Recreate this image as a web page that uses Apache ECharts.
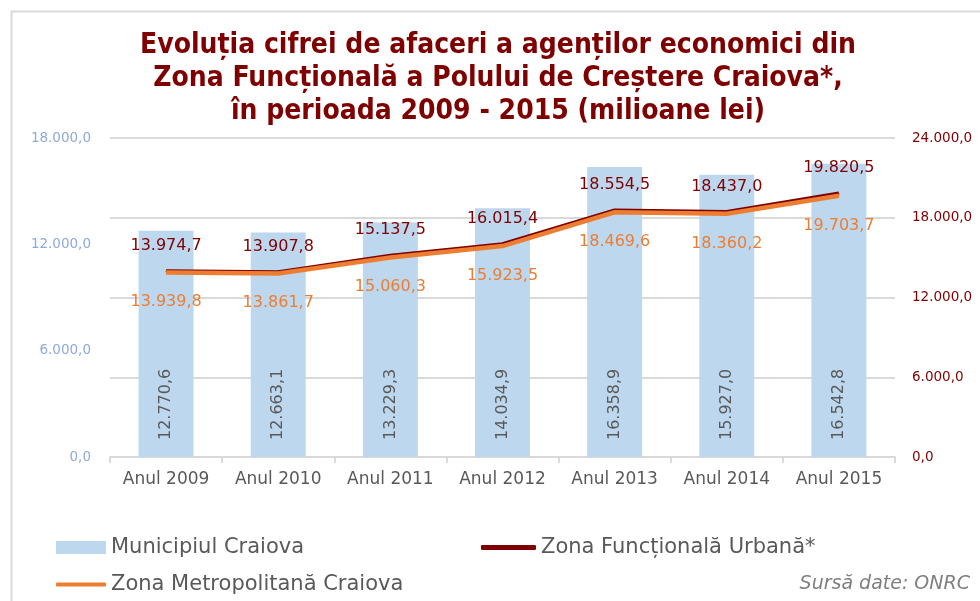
<!DOCTYPE html>
<html>
<head>
<meta charset="utf-8">
<script src="https://cdn.jsdelivr.net/npm/echarts@6/dist/echarts.min.js"></script>
<style>
html,body{margin:0;padding:0;background:#fff;}
#chart{width:980px;height:601px;}
</style>
</head>
<body>
<div id="chart"></div>
<script>
var years = ['Anul 2009','Anul 2010','Anul 2011','Anul 2012','Anul 2013','Anul 2014','Anul 2015'];
var municipiul = [12770.6, 12663.1, 13229.3, 14034.9, 16358.9, 15927.0, 16542.8];
var zonaFunctionala = [13974.7, 13907.8, 15137.5, 16015.4, 18554.5, 18437.0, 19820.5];
var zonaMetropolitana = [13939.8, 13861.7, 15060.3, 15923.5, 18469.6, 18360.2, 19703.7];

var FONT = '"DejaVu Sans", sans-serif';

// format 12770.6 -> 12.770,6
function fmt(v){
    var s = Number(v).toFixed(1);
    var parts = s.split('.');
    var intp = parts[0].replace(/\B(?=(\d{3})+(?!\d))/g, '.');
    return intp + ',' + parts[1];
}

var myChart = echarts.init(document.getElementById('chart'));
myChart.setOption({
    backgroundColor: '#fff',
    animation: false,
    title: {
        text: 'Evoluția cifrei de afaceri a agenților economici din\nZona Funcțională a Polului de Creștere Craiova*,\nîn perioada 2009 - 2015 (milioane lei)',
        left: 493,
        top: 24,
        textAlign: 'center',
        textStyle: {
            color: '#7F0000',
            fontFamily: '"DejaVu Sans Condensed", "DejaVu Sans", sans-serif',
            fontWeight: 'bold',
            fontSize: 28,
            lineHeight: 33
        }
    },
    grid: {
        left: 110,
        right: 85,
        top: 138,
        bottom: 144
    },
    legend: [{
        left: 56,
        top: 537,
        padding: 0,
        itemWidth: 50,
        itemHeight: 13,
        data: [{name: 'Municipiul Craiova', icon: 'rect'}],
        textStyle: {color: '#595959', fontSize: 21, fontFamily: FONT}
    }, {
        left: 481,
        top: 537,
        padding: 0,
        itemWidth: 55,
        itemHeight: 5,
        data: [{name: 'Zona Funcțională Urbană*', icon: 'roundRect'}],
        textStyle: {color: '#595959', fontSize: 21, fontFamily: FONT}
    }, {
        left: 56,
        top: 574,
        padding: 0,
        itemWidth: 50,
        itemHeight: 4,
        data: [{name: 'Zona Metropolitană Craiova', icon: 'roundRect'}],
        textStyle: {color: '#595959', fontSize: 21, fontFamily: FONT}
    }],
    graphic: [{
        type: 'rect',
        shape: {x: 11.5, y: 11.5, width: 1200, height: 800},
        style: {fill: 'none', stroke: '#D9D9D9', lineWidth: 2},
        silent: true
    }, {
        type: 'text',
        right: 10,
        top: 575,
        style: {
            text: 'Sursă date: ONRC',
            fill: '#7F7F7F',
            font: 'italic 19px "DejaVu Sans", sans-serif'
        }
    }],
    xAxis: [{
        type: 'category',
        data: years,
        boundaryGap: true,
        axisLine: {lineStyle: {color: '#D9D9D9', width: 2}},
        axisTick: {show: true, length: 6, lineStyle: {color: '#D9D9D9', width: 2}},
        axisLabel: {color: '#595959', fontSize: 17, fontFamily: FONT, margin: 14, interval: 0}
    }],
    yAxis: [{
        type: 'value',
        min: 0,
        max: 18000,
        interval: 6000,
        axisLine: {show: false},
        axisTick: {show: false},
        splitLine: {show: false},
        axisLabel: {
            color: '#8EA9DB',
            fontSize: 13.5,
            fontFamily: FONT,
            margin: 19,
            formatter: function(v){ return fmt(v); }
        }
    }, {
        type: 'value',
        min: 0,
        max: 24000,
        interval: 6000,
        position: 'right',
        axisLine: {show: false},
        axisTick: {show: false},
        splitLine: {show: true, lineStyle: {color: '#D9D9D9', width: 2}},
        axisLabel: {
            color: '#7F0000',
            fontSize: 13.5,
            fontFamily: FONT,
            margin: 17,
            formatter: function(v){ return fmt(v); }
        }
    }],
    series: [{
        name: 'Municipiul Craiova',
        type: 'bar',
        yAxisIndex: 0,
        data: municipiul,
        barWidth: '49%',
        itemStyle: {color: '#BDD7EE'},
        label: {
            show: true,
            position: 'insideBottom',
            rotate: 90,
            align: 'left',
            verticalAlign: 'middle',
            distance: 17,
            color: '#595959',
            fontSize: 16,
            fontFamily: FONT,
            formatter: function(p){ return fmt(p.value); }
        }
    }, {
        name: 'Zona Funcțională Urbană*',
        type: 'line',
        yAxisIndex: 1,
        data: zonaFunctionala,
        symbol: 'circle',
        symbolSize: 1,
        showSymbol: true,
        lineStyle: {color: '#7F0000', width: 4},
        itemStyle: {color: '#7F0000'},
        z: 3,
        label: {
            show: true,
            position: 'top',
            distance: 17,
            color: '#7F0000',
            fontSize: 16,
            fontFamily: FONT,
            formatter: function(p){ return fmt(p.value); }
        }
    }, {
        name: 'Zona Metropolitană Craiova',
        type: 'line',
        yAxisIndex: 1,
        data: zonaMetropolitana,
        symbol: 'circle',
        symbolSize: 1,
        showSymbol: true,
        lineStyle: {
            color: '#ED7D31',
            width: 3,
            shadowColor: '#ED7D31',
            shadowBlur: 0,
            shadowOffsetY: 1.5
        },
        itemStyle: {color: '#ED7D31'},
        z: 4,
        label: {
            show: true,
            position: 'bottom',
            distance: 22,
            color: '#ED7D31',
            fontSize: 16,
            fontFamily: FONT,
            formatter: function(p){ return fmt(p.value); }
        }
    }]
});
</script>
</body>
</html>
